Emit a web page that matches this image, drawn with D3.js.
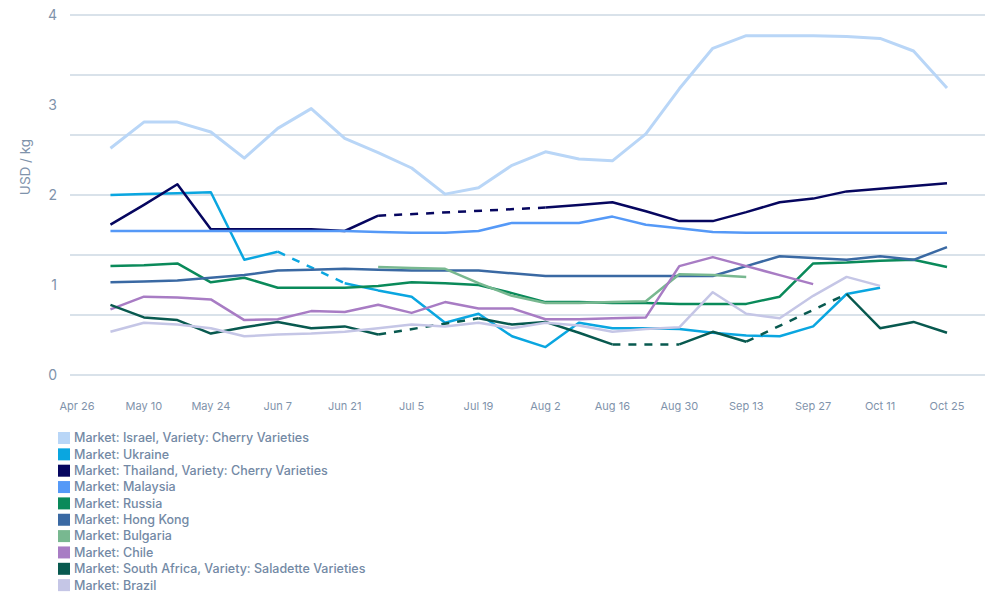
<!DOCTYPE html>
<html lang="en">
  <head>
    <meta charset="UTF-8" />
    <script src="https://d3js.org/d3.v7.min.js"></script>
    <style>
      body { margin: 0; background: #fff; font-family: Inter, "Noto Sans", sans-serif; }
      svg { display: block; }
    </style>
    <title>USD / kg</title>
  </head>
  <body>
    <svg id="chart" width="991" height="593"></svg>
    <script>
      // weekly points, first one is May 3 (week 1 after Apr 26)
      const startDate = new Date(Date.UTC(2021, 3, 26));
      const endDate = new Date(Date.UTC(2021, 9, 25));

      const seriesNames = [
        "Market: Israel, Variety: Cherry Varieties",
        "Market: Ukraine",
        "Market: Thailand, Variety: Cherry Varieties",
        "Market: Malaysia",
        "Market: Russia",
        "Market: Hong Kong",
        "Market: Bulgaria",
        "Market: Chile",
        "Market: South Africa, Variety: Saladette Varieties",
        "Market: Brazil",
      ];
      const seriesColors = [
        "#b9d6f7", "#0aa6e0", "#06065f", "#5599f7", "#0a8a5a",
        "#3a69a3", "#78b890", "#a87cc4", "#08594f", "#c5c6e6",
      ];

      const israel = [2.52, 2.81, 2.81, 2.70, 2.41, 2.74, 2.96, 2.63, 2.47, 2.30, 2.01, 2.08, 2.33, 2.48, 2.40, 2.38, 2.68, 3.18, 3.63, 3.77, 3.77, 3.77, 3.76, 3.74, 3.60, 3.19];
      const ukraine = [2.00, 2.01, 2.02, 2.03, 1.28, 1.37, null, 1.02, 0.94, 0.87, 0.58, 0.68, 0.43, 0.31, 0.58, 0.52, 0.52, 0.51, 0.47, 0.44, 0.43, 0.54, 0.90, 0.97, null, null];
      const thailand = [1.67, 1.89, 2.12, 1.62, 1.62, 1.62, 1.62, 1.60, 1.77, null, null, null, null, 1.86, 1.89, 1.92, 1.82, 1.71, 1.71, 1.81, 1.92, 1.96, 2.04, 2.07, 2.10, 2.13];
      const malaysia = [1.60, 1.60, 1.60, 1.60, 1.60, 1.60, 1.60, 1.60, 1.59, 1.58, 1.58, 1.60, 1.69, 1.69, 1.69, 1.76, 1.67, 1.63, 1.59, 1.58, 1.58, 1.58, 1.58, 1.58, 1.58, 1.58];
      const russia = [1.21, 1.22, 1.24, 1.03, 1.08, 0.97, 0.97, 0.97, 0.99, 1.03, 1.02, 1.00, 0.91, 0.81, 0.81, 0.80, 0.80, 0.79, 0.79, 0.79, 0.87, 1.24, 1.25, 1.27, 1.28, 1.20];
      const hongKong = [1.03, 1.04, 1.05, 1.08, 1.11, 1.16, 1.17, 1.18, 1.17, 1.16, 1.16, 1.16, 1.13, 1.10, 1.10, 1.10, 1.10, 1.10, 1.10, 1.21, 1.32, 1.30, 1.28, 1.32, 1.28, 1.42];
      const bulgaria = [null, null, null, null, null, null, null, null, 1.20, 1.19, 1.18, 1.02, 0.88, 0.80, 0.80, 0.81, 0.82, 1.12, 1.11, 1.09, null, null, null, null, null, null];
      const chile = [0.73, 0.87, 0.86, 0.84, 0.61, 0.62, 0.71, 0.70, 0.78, 0.69, 0.81, 0.74, 0.74, 0.62, 0.62, 0.63, 0.64, 1.21, 1.31, 1.21, 1.11, 1.01, null, null, null, null];
      const southAfrica = [0.78, 0.64, 0.61, 0.46, 0.53, 0.59, 0.52, 0.54, 0.45, null, null, 0.63, 0.56, 0.59, 0.47, 0.34, null, 0.34, 0.48, 0.37, null, null, 0.90, 0.52, 0.59, 0.47];
      const brazil = [0.48, 0.58, 0.56, 0.52, 0.43, 0.45, 0.46, 0.48, 0.52, 0.56, 0.54, 0.58, 0.52, 0.58, 0.55, 0.48, 0.51, 0.53, 0.92, 0.68, 0.63, 0.88, 1.09, 0.99, null, null];

      const seriesValues = [israel, ukraine, thailand, malaysia, russia, hongKong, bulgaria, chile, southAfrica, brazil];

      const yTicks = [0, 1, 2, 3, 4];
      const xTicks = d3.range(0, 14).map((i) => d3.utcDay.offset(startDate, i * 14));

      const svg = d3.select("#chart");
      const axisColor = "#7f93ab";

      const x = d3.scaleUtc().domain([startDate, endDate]).range([77, 947]);
      const y = d3.scaleLinear().domain([0, 4]).range([375, 15]);

      // grid lines: every 2/3 unit, labels every 1
      svg.append("g")
        .selectAll("line")
        .data(d3.range(0, 7).map((i) => (i * 4) / 6))
        .join("line")
        .attr("x1", 70)
        .attr("x2", 985)
        .attr("y1", (d) => y(d))
        .attr("y2", (d) => y(d))
        .attr("stroke", "#cdd8e3")
        .attr("stroke-width", 1.5);

      svg.append("g")
        .selectAll("text")
        .data(yTicks)
        .join("text")
        .attr("x", 57)
        .attr("y", (d) => y(d))
        .attr("dy", "0.35em")
        .attr("text-anchor", "end")
        .attr("font-size", 14)
        .attr("fill", axisColor)
        .text((d) => d);

      svg.append("text")
        .attr("transform", "translate(25,167) rotate(-90)")
        .attr("text-anchor", "middle")
        .attr("dy", "0.35em")
        .attr("font-size", 13.5)
        .attr("fill", axisColor)
        .text("USD / kg");

      svg.append("g")
        .selectAll("text")
        .data(xTicks)
        .join("text")
        .attr("x", (d) => x(d))
        .attr("y", 406)
        .attr("dy", "0.35em")
        .attr("text-anchor", "middle")
        .attr("font-size", 11)
        .attr("fill", axisColor)
        .text((d) => d3.utcFormat("%b %-d")(d));

      // build points and draw solid runs + dashed bridges over interior gaps
      const lineGen = d3.line()
        .defined((d) => d.v != null)
        .x((d) => x(d.date))
        .y((d) => y(d.v));

      const plot = svg.append("g");
      seriesValues.forEach((vals, si) => {
        const pts = vals.map((v, i) => ({ date: d3.utcDay.offset(startDate, (i + 1) * 7), v }));
        const color = seriesColors[si];
        const g = plot.append("g");

        const defined = pts.filter((d) => d.v != null);
        const bridges = [];
        for (let k = 1; k < defined.length; k++) {
          const a = pts.indexOf(defined[k - 1]);
          const b = pts.indexOf(defined[k]);
          if (b - a > 1) bridges.push([defined[k - 1], defined[k]]);
        }

        g.selectAll("path.bridge")
          .data(bridges)
          .join("path")
          .attr("class", "bridge")
          .attr("d", (d) => d3.line().x((p) => x(p.date)).y((p) => y(p.v))(d))
          .attr("fill", "none")
          .attr("stroke", color)
          .attr("stroke-width", 2.5)
          .attr("stroke-dasharray", "8,8");

        g.append("path")
          .datum(pts)
          .attr("d", lineGen)
          .attr("fill", "none")
          .attr("stroke", color)
          .attr("stroke-width", si === 0 ? 3 : 2.5)
          .attr("stroke-linejoin", "round");
      });

      // legend
      const legend = svg.append("g")
        .selectAll("g")
        .data(seriesNames)
        .join("g")
        .attr("transform", (d, i) => `translate(58,${438 + i * 16.35})`);

      legend.append("rect")
        .attr("x", 0)
        .attr("y", -6)
        .attr("width", 12)
        .attr("height", 12)
        .attr("fill", (d, i) => seriesColors[i]);

      legend.append("text")
        .attr("x", 16)
        .attr("dy", "0.35em")
        .attr("font-size", 12.5)
        .attr("font-weight", 500)
        .attr("fill", "#7389a5")
        .text((d) => d);
    </script>
  </body>
</html>
